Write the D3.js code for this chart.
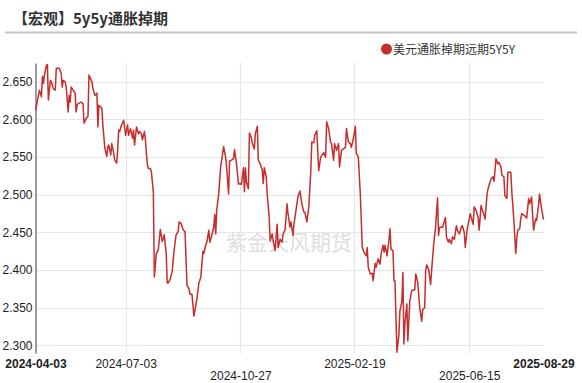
<!DOCTYPE html>
<html><head><meta charset="utf-8">
<script src="https://cdn.jsdelivr.net/npm/d3@7/dist/d3.min.js"></script>
<style>
html,body{margin:0;padding:0;background:#fff;}
svg{display:block;}
</style></head>
<body><svg id="c" width="582" height="383"></svg>
<script>
const title = "【宏观】5y5y通胀掉期";
const seriesName = "美元通胀掉期远期5Y5Y";
const watermark = "紫金天风期货";
const xTickLabels = ["2024-04-03","2024-07-03","2024-10-27","2025-02-19","2025-06-15","2025-08-29"];
const yTickLabels = ["2.300","2.350","2.400","2.450","2.500","2.550","2.600","2.650"];
const yRange = [2.290, 2.675];

const dates = [
"2024-04-03","2024-04-06","2024-04-07","2024-04-09","2024-04-10","2024-04-11","2024-04-12","2024-04-14","2024-04-15","2024-04-16",
"2024-04-18","2024-04-19","2024-04-21","2024-04-23","2024-04-24","2024-04-27","2024-04-29","2024-04-30","2024-05-01","2024-05-03",
"2024-05-04","2024-05-06","2024-05-07","2024-05-08","2024-05-09","2024-05-11","2024-05-13","2024-05-14","2024-05-15","2024-05-16",
"2024-05-19","2024-05-21","2024-05-22","2024-05-24","2024-05-26","2024-05-27","2024-05-30","2024-05-31","2024-06-02","2024-06-04",
"2024-06-05","2024-06-06","2024-06-09","2024-06-10","2024-06-12","2024-06-14","2024-06-15","2024-06-16","2024-06-18","2024-06-19",
"2024-06-21","2024-06-22","2024-06-24","2024-06-25","2024-06-26","2024-06-27","2024-06-29","2024-07-01","2024-07-02","2024-07-03",
"2024-07-05","2024-07-06","2024-07-08","2024-07-10","2024-07-11","2024-07-12","2024-07-14","2024-07-16","2024-07-17","2024-07-19",
"2024-07-20","2024-07-22","2024-07-23","2024-07-24","2024-07-25","2024-07-26","2024-07-28","2024-07-29","2024-07-31","2024-08-01",
"2024-08-03","2024-08-05","2024-08-07","2024-08-09","2024-08-10","2024-08-11","2024-08-13","2024-08-14","2024-08-15","2024-08-17",
"2024-08-19","2024-08-21","2024-08-23","2024-08-25","2024-08-26","2024-08-28","2024-08-30","2024-09-01","2024-09-03","2024-09-05",
"2024-09-06","2024-09-08","2024-09-10","2024-09-13","2024-09-15","2024-09-17","2024-09-19","2024-09-20","2024-09-22","2024-09-23",
"2024-09-25","2024-09-26","2024-09-28","2024-09-30","2024-10-01","2024-10-02","2024-10-03","2024-10-05","2024-10-07","2024-10-10",
"2024-10-12","2024-10-13","2024-10-15","2024-10-16","2024-10-18","2024-10-20","2024-10-21","2024-10-23","2024-10-25","2024-10-26",
"2024-10-28","2024-10-30","2024-10-31","2024-11-01","2024-11-02","2024-11-04","2024-11-05","2024-11-07","2024-11-08","2024-11-10",
"2024-11-11","2024-11-13","2024-11-14","2024-11-16","2024-11-18","2024-11-19","2024-11-20","2024-11-22","2024-11-23","2024-11-25",
"2024-11-26","2024-11-28","2024-11-29","2024-12-01","2024-12-03","2024-12-04","2024-12-06","2024-12-08","2024-12-09","2024-12-11",
"2024-12-13","2024-12-14","2024-12-16","2024-12-17","2024-12-19","2024-12-20","2024-12-22","2024-12-24","2024-12-26","2024-12-28",
"2024-12-30","2024-12-31","2025-01-02","2025-01-04","2025-01-06","2025-01-07","2025-01-09","2025-01-10","2025-01-12","2025-01-14",
"2025-01-16","2025-01-17","2025-01-19","2025-01-21","2025-01-22","2025-01-24","2025-01-26","2025-01-27","2025-01-29","2025-01-30",
"2025-02-01","2025-02-03","2025-02-04","2025-02-06","2025-02-08","2025-02-10","2025-02-11","2025-02-13","2025-02-15","2025-02-16",
"2025-02-18","2025-02-20","2025-02-21","2025-02-23","2025-02-25","2025-02-26","2025-02-27","2025-03-01","2025-03-03","2025-03-04",
"2025-03-05","2025-03-07","2025-03-09","2025-03-10","2025-03-12","2025-03-13","2025-03-15","2025-03-17","2025-03-18","2025-03-20",
"2025-03-21","2025-03-22","2025-03-24","2025-03-26","2025-03-27","2025-03-28","2025-03-30","2025-03-31","2025-04-01","2025-04-03",
"2025-04-05","2025-04-06","2025-04-08","2025-04-09","2025-04-10","2025-04-11","2025-04-13","2025-04-14","2025-04-16","2025-04-18",
"2025-04-21","2025-04-22","2025-04-24","2025-04-26","2025-04-28","2025-04-29","2025-05-01","2025-05-02","2025-05-03","2025-05-05",
"2025-05-07","2025-05-08","2025-05-10","2025-05-12","2025-05-14","2025-05-15","2025-05-16","2025-05-19","2025-05-20","2025-05-22",
"2025-05-23","2025-05-25","2025-05-26","2025-05-28","2025-05-29","2025-05-31","2025-06-02","2025-06-03","2025-06-05","2025-06-07",
"2025-06-08","2025-06-10","2025-06-11","2025-06-13","2025-06-14","2025-06-16","2025-06-17","2025-06-19","2025-06-20","2025-06-22",
"2025-06-24","2025-06-25","2025-06-27","2025-06-28","2025-06-30","2025-07-01","2025-07-03","2025-07-04","2025-07-06","2025-07-07",
"2025-07-09","2025-07-10","2025-07-11","2025-07-12","2025-07-14","2025-07-15","2025-07-17","2025-07-18","2025-07-20","2025-07-21",
"2025-07-23","2025-07-24","2025-07-26","2025-07-27","2025-07-28","2025-07-30","2025-08-01","2025-08-02","2025-08-03","2025-08-05",
"2025-08-06","2025-08-07","2025-08-09","2025-08-11","2025-08-12","2025-08-14","2025-08-15","2025-08-17","2025-08-18","2025-08-19",
"2025-08-21","2025-08-22","2025-08-24","2025-08-25","2025-08-27","2025-08-29"
];
const rates = [
2.612,2.632,2.639,2.630,2.657,2.648,2.659,2.672,2.673,2.626,
2.652,2.650,2.641,2.639,2.668,2.668,2.661,2.643,2.652,2.650,
2.643,2.610,2.632,2.623,2.643,2.639,2.635,2.610,2.619,2.621,
2.623,2.621,2.595,2.601,2.604,2.659,2.650,2.641,2.632,2.635,
2.590,2.619,2.615,2.593,2.562,2.551,2.564,2.566,2.553,2.568,
2.555,2.546,2.542,2.559,2.586,2.584,2.593,2.599,2.590,2.579,
2.593,2.579,2.588,2.575,2.586,2.566,2.590,2.581,2.584,2.581,
2.573,2.584,2.573,2.555,2.540,2.535,2.535,2.531,2.504,2.391,
2.422,2.427,2.454,2.438,2.442,2.447,2.422,2.383,2.383,2.388,
2.398,2.427,2.447,2.451,2.464,2.462,2.454,2.451,2.380,2.375,
2.368,2.368,2.339,2.362,2.383,2.391,2.425,2.422,2.434,2.437,
2.453,2.437,2.446,2.457,2.474,2.448,2.479,2.501,2.537,2.564,
2.550,2.537,2.501,2.545,2.546,2.548,2.560,2.541,2.514,2.515,
2.514,2.536,2.504,2.536,2.517,2.508,2.582,2.576,2.568,2.561,
2.581,2.591,2.546,2.541,2.533,2.515,2.536,2.524,2.501,2.470,
2.439,2.448,2.439,2.426,2.461,2.430,2.441,2.437,2.448,2.453,
2.488,2.475,2.457,2.464,2.446,2.461,2.479,2.497,2.505,2.488,
2.477,2.477,2.464,2.484,2.532,2.570,2.569,2.579,2.585,2.532,
2.550,2.552,2.556,2.550,2.597,2.588,2.570,2.568,2.546,2.568,
2.559,2.568,2.537,2.559,2.561,2.563,2.588,2.570,2.568,2.563,
2.575,2.591,2.555,2.550,2.501,2.466,2.430,2.423,2.419,2.430,
2.404,2.395,2.396,2.386,2.409,2.404,2.415,2.408,2.422,2.433,
2.424,2.433,2.419,2.441,2.455,2.428,2.426,2.386,2.386,2.291,
2.315,2.346,2.359,2.397,2.302,2.328,2.355,2.306,2.359,2.373,
2.374,2.395,2.384,2.350,2.332,2.348,2.350,2.399,2.407,2.401,
2.381,2.399,2.433,2.457,2.496,2.446,2.457,2.457,2.461,2.470,
2.444,2.437,2.441,2.435,2.444,2.441,2.459,2.453,2.448,2.457,
2.459,2.450,2.430,2.455,2.461,2.475,2.470,2.461,2.484,2.479,
2.470,2.453,2.486,2.481,2.473,2.468,2.501,2.508,2.517,2.521,
2.524,2.518,2.532,2.548,2.541,2.543,2.537,2.526,2.524,2.499,
2.495,2.530,2.530,2.530,2.504,2.468,2.422,2.442,2.453,2.455,
2.468,2.475,2.473,2.471,2.469,2.495,2.488,2.497,2.473,2.453,
2.468,2.466,2.486,2.501,2.482,2.467
];

(function () {
const parse = d3.timeParse("%Y-%m-%d");
const data = dates.map((d, i) => ({date: parse(d), value: rates[i]}));
const tickDates = xTickLabels.map(parse);

const pL = 35.5, pR = 543.5, pT = 63, pB = 353;
const svg = d3.select("#c");
const font = "'Liberation Sans', Arial, sans-serif";
const cjk = "'Noto Sans CJK SC', 'Liberation Sans', sans-serif";

// Title
svg.append("text").attr("x", 13).attr("y", 24)
  .attr("font-family", cjk).attr("font-size", 15).attr("font-weight", "bold")
  .attr("fill", "#333").text(title);
svg.append("line").attr("x1", 5).attr("x2", 577).attr("y1", 32.5).attr("y2", 32.5)
  .attr("stroke", "#c4c4c4").attr("stroke-width", 2);

const x = d3.scaleTime().domain([tickDates[0], tickDates[tickDates.length - 1]]).range([pL, pR]);
const y = d3.scaleLinear().domain(yRange).range([pB, pT]);

// horizontal grid
const yTicks = yTickLabels.map(Number);
svg.append("g").selectAll("line").data(yTicks).join("line")
  .attr("x1", pL).attr("x2", pR)
  .attr("y1", d => Math.round(y(d)) + 0.5).attr("y2", d => Math.round(y(d)) + 0.5)
  .attr("stroke", "#e6e6e6").attr("stroke-width", 1.2);
// vertical grid (inner ticks)
svg.append("g").selectAll("line").data(tickDates.slice(1, -1)).join("line")
  .attr("x1", d => Math.round(x(d)) + 0.5).attr("x2", d => Math.round(x(d)) + 0.5)
  .attr("y1", pT).attr("y2", pB)
  .attr("stroke", "#e6e6e6").attr("stroke-width", 1.2);

// watermark
svg.append("text").attr("x", 289).attr("y", 250).attr("text-anchor", "middle")
  .attr("font-family", cjk).attr("font-size", 21).attr("fill", "#dedede")
  .text(watermark);

// y axis
const yAxis = d3.axisLeft(y).tickValues(yTicks).tickFormat((d, i) => yTickLabels[i]).tickSize(0).tickPadding(3);
const gy = svg.append("g").attr("transform", `translate(${pL},0)`).call(yAxis);
gy.select(".domain").attr("stroke", "#666").attr("stroke-width", 1.3);
gy.selectAll("text").attr("font-family", font).attr("font-size", 12).attr("fill", "#222");

// x axis labels (staggered)
const xAxis = d3.axisBottom(x).tickValues(tickDates).tickFormat((d, i) => xTickLabels[i]).tickSize(0);
const gx = svg.append("g").attr("transform", `translate(0,${pB})`).call(xAxis);
gx.select(".domain").remove();
gx.selectAll("text")
  .attr("font-family", font).attr("font-size", 12).attr("fill", "#222")
  .attr("dy", null)
  .attr("y", (d, i) => (i === 0 || i === tickDates.length - 1 || i % 2 === 1) ? 15 : 27)
  .attr("font-weight", (d, i) => (i === 0 || i === tickDates.length - 1) ? "bold" : "normal");

// line
const line = d3.line().x(d => x(d.date)).y(d => y(d.value));
svg.append("path").datum(data).attr("d", line)
  .attr("fill", "none").attr("stroke", "#c62d2d").attr("stroke-width", 1.5)
  .attr("stroke-linejoin", "round");

// legend
svg.append("circle").attr("cx", 386.5).attr("cy", 49).attr("r", 5.5).attr("fill", "#c62d2d");
svg.append("text").attr("x", 393).attr("y", 53.5)
  .attr("font-family", cjk).attr("font-size", 12).attr("fill", "#333").text(seriesName);
})();
</script>
</body></html>
